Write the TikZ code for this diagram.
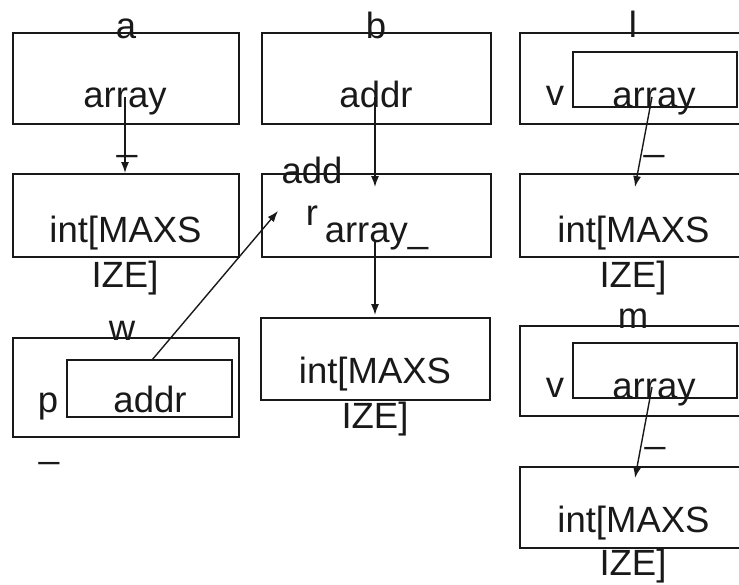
\documentclass[tikz,border=0pt]{standalone}
\usepackage{fontspec}
\setmainfont{Liberation Sans}
\usetikzlibrary{arrows.meta}
\begin{document}
\begin{tikzpicture}[x=1pt,y=-1pt,
  box/.style={draw=black!90,line width=1.6pt,rectangle,inner sep=0pt,outer sep=0pt},
  lbl/.style={anchor=base,inner sep=0pt,outer sep=0pt,text=black!90,font=\fontsize{36.5}{42}\selectfont},
  arr/.style={draw=black!90,line width=1.4pt,-{Latex[length=11pt,width=8pt]}}]
\useasboundingbox (0,0) rectangle (739,584);
\clip (0,0) rectangle (739,584);
% left column
\node[box,minimum width=226pt,minimum height=91pt] (A) at (126,78.5) {};
\node[box,minimum width=226pt,minimum height=83pt] (Aint) at (126,215.5) {};
\node[box,minimum width=226pt,minimum height=99pt] (W) at (126,387.5) {};
\node[box,minimum width=165pt,minimum height=57pt] (Wp) at (149.5,388.5) {};
% middle column
\node[box,minimum width=229pt,minimum height=91pt] (B) at (376.5,78.5) {};
\node[box,minimum width=229pt,minimum height=83pt] (B2) at (376.5,215.5) {};
\node[box,minimum width=229pt,minimum height=82pt] (B3) at (375.5,359) {};
% right column
\node[box,minimum width=230pt,minimum height=91pt] (L) at (635,78.5) {};
\node[box,minimum width=164pt,minimum height=55pt] (Lv) at (655,79.5) {};
\node[box,minimum width=230pt,minimum height=83pt] (Lint) at (635,215.5) {};
\node[box,minimum width=230pt,minimum height=90pt] (M) at (635,371) {};
\node[box,minimum width=164pt,minimum height=55pt] (Mv) at (655,370.5) {};
\node[box,minimum width=230pt,minimum height=81pt] (Mint) at (635,507.5) {};
% texts
\node[lbl] (ta) at (126,38) {a};
\node[lbl] (taarr) at (125,107) {array};
\node[lbl] (taus) at (127,150) {\_};
\node[lbl] (taint1) at (125.5,242) {int[MAXS};
\node[lbl] (taint2) at (125,287) {IZE]};
\node[lbl] (tw) at (122,340) {w};
\node[lbl] (tp) at (48,412) {p};
\node[lbl] (twaddr) at (150,412) {addr};
\node[lbl] (twus) at (49,457) {\_};
\node[lbl] (tb) at (376,38) {b};
\node[lbl] (tbaddr) at (376,107) {addr};
\node[lbl] (tbadd) at (312,183) {add};
\node[lbl] (tbr) at (312,225) {r};
\node[lbl] (tbarr) at (376.5,242) {array\_};
\node[lbl] (tbint1) at (375,383) {int[MAXS};
\node[lbl] (tbint2) at (375,428) {IZE]};
\node[lbl] (tl) at (633,37) {l};
\node[lbl] (tlv) at (555,105) {v};
\node[lbl] (tlarr) at (654,107) {array};
\node[lbl] (tlus) at (654,150) {\_};
\node[lbl] (tlint1) at (633.5,242) {int[MAXS};
\node[lbl] (tlint2) at (633,287) {IZE]};
\node[lbl] (tm) at (633,328) {m};
\node[lbl] (tmv) at (555,397) {v};
\node[lbl] (tmarr) at (654,398) {array};
\node[lbl] (tmus) at (655,442) {\_};
\node[lbl] (tmint1) at (633.5,532) {int[MAXS};
\node[lbl] (tmint2) at (633,575) {IZE]};
% connector ends
\coordinate (sa) at (125,97);
\coordinate (ea) at (125,173);
\coordinate (sb) at (375,97);
\coordinate (eb) at (375,187);
\coordinate (sb2) at (375,240);
\coordinate (eb2) at (375,315);
\coordinate (sw) at (152,360);
\coordinate (ew) at (278,211);
\coordinate (sl) at (652,97);
\coordinate (el) at (635,187);
\coordinate (sm) at (652,387);
\coordinate (em) at (635,478);
\draw[arr] (sa) -- (ea);
\draw[arr] (sb) -- (eb);
\draw[arr] (sb2) -- (eb2);
\draw[arr] (sw) -- (ew);
\draw[arr] (sl) -- (el);
\draw[arr] (sm) -- (em);
\end{tikzpicture}
\end{document}
